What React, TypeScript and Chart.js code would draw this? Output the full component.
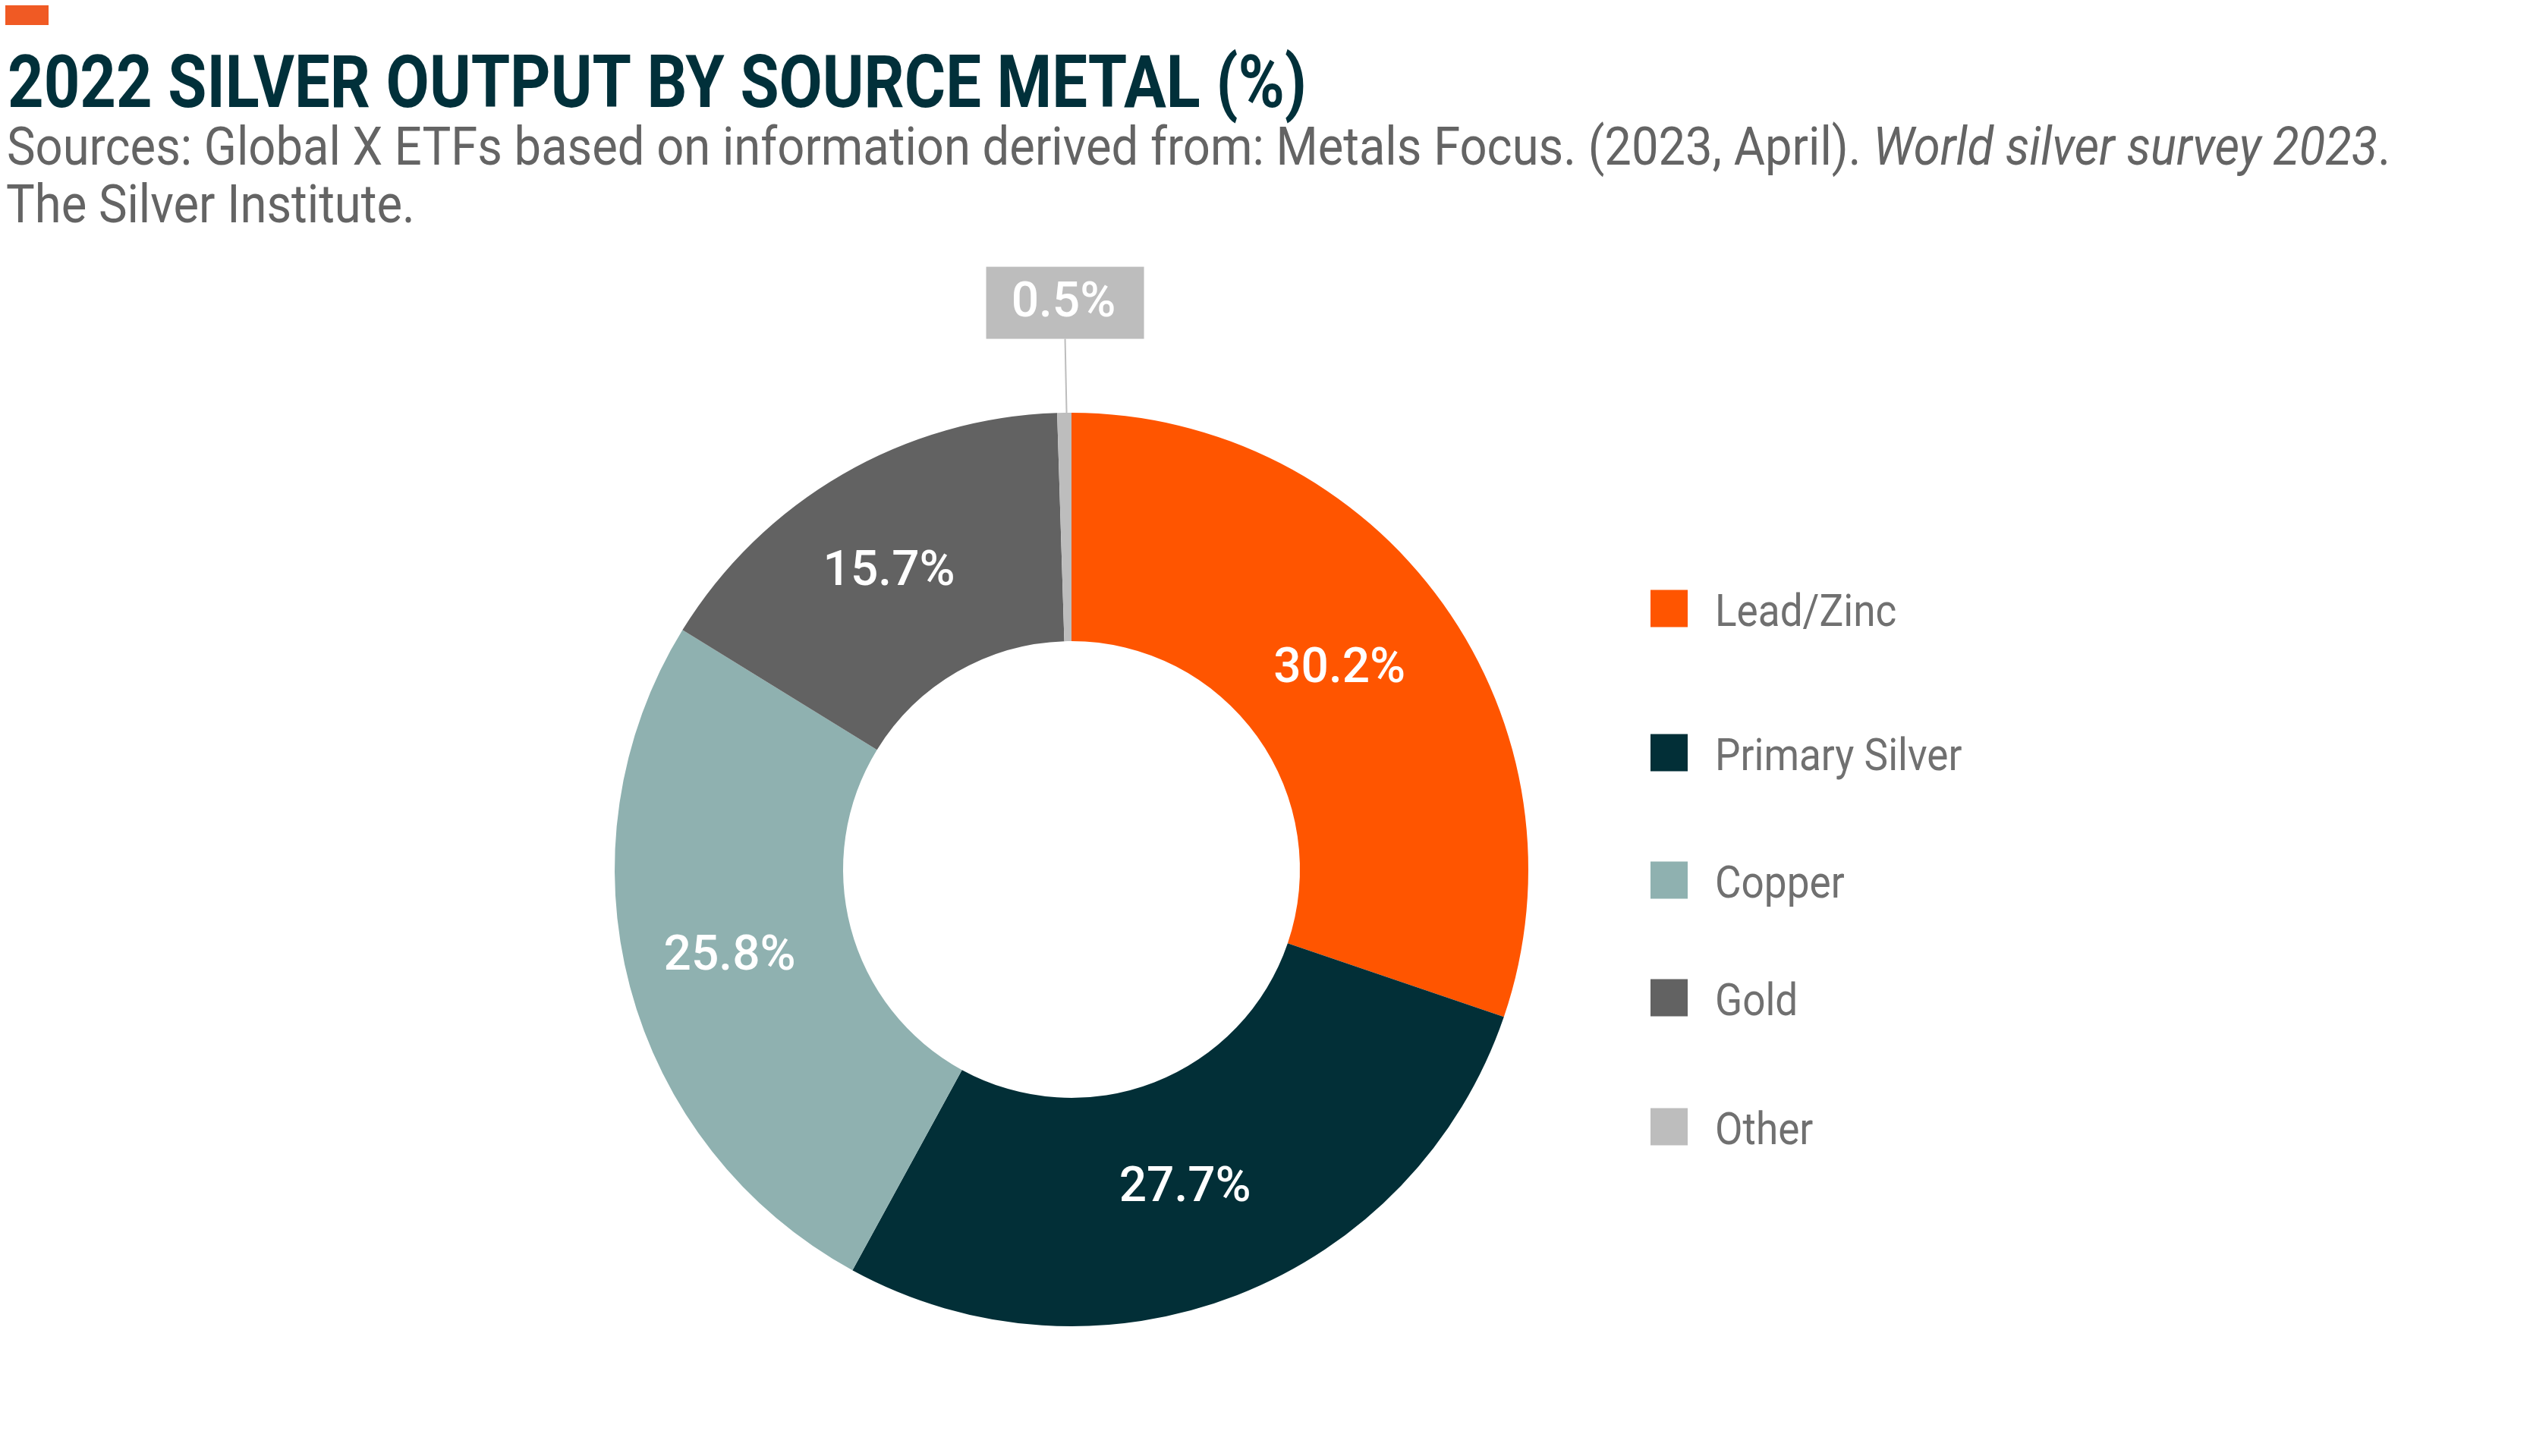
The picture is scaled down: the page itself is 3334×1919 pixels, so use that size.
import React, { useEffect, useRef } from 'react';
import { Chart, registerables } from 'chart.js';

Chart.register(...registerables);

// ---------- data ----------
const categories = ['Lead/Zinc', 'Primary Silver', 'Copper', 'Gold', 'Other'];
const shares = [30.2, 27.7, 25.8, 15.7, 0.5];
const sliceColors = ['#FF5500', '#022F37', '#8FB1B0', '#626262', '#BDBDBD'];

const titleText = '2022 SILVER OUTPUT BY SOURCE METAL (%)';
const sourceLine1 = [
  { text: 'Sources: Global X ETFs based on information derived from: Metals Focus. (2023, April). ', italic: false },
  { text: 'World silver survey 2023', italic: true },
  { text: '.', italic: false },
];
const sourceLine2 = 'The Silver Institute.';

// ---------- layout / style ----------
const W = 3334;
const H = 1919;
const FONT = 'Roboto, "Noto Sans", "DejaVu Sans", sans-serif';
const LEGEND_ROW_CENTERS = [802, 992, 1160, 1315, 1485];

function fmt(v: number) {
  return v.toFixed(1) + '%';
}

const decorPlugin = {
  id: 'decor',
  afterDatasetsDraw(chart: any) {
    const ctx: CanvasRenderingContext2D = chart.ctx;
    const meta = chart.getDatasetMeta(0);
    ctx.save();
    ctx.textAlign = 'center';
    ctx.textBaseline = 'middle';
    ctx.fillStyle = '#FFFFFF';
    ctx.font = `500 64px ${FONT}`;
    meta.data.forEach((arc: any, i: number) => {
      const v = shares[i];
      const label = fmt(v);
      if (v < 2) {
        const p = arc.getProps(['x', 'y', 'startAngle', 'endAngle', 'outerRadius'], true);
        const mid = (p.startAngle + p.endAngle) / 2;
        const ex = p.x + Math.cos(mid) * p.outerRadius;
        const ey = p.y + Math.sin(mid) * p.outerRadius;
        const bw = 208;
        const bh = 95;
        const bcx = ex + 1;
        const bcy = ey - 145;
        ctx.strokeStyle = '#BDBDBD';
        ctx.lineWidth = 2;
        ctx.beginPath();
        ctx.moveTo(ex + 3, ey);
        ctx.lineTo(bcx, bcy + bh / 2);
        ctx.stroke();
        ctx.fillStyle = '#BDBDBD';
        ctx.fillRect(bcx - bw / 2, bcy - bh / 2, bw, bh);
        ctx.fillStyle = '#FFFFFF';
        ctx.fillText(label, bcx - 2, bcy + 2);
      } else {
        const c = arc.getCenterPoint();
        ctx.fillText(label, c.x - 14, c.y);
      }
    });
    ctx.restore();
  },
  afterDraw(chart: any) {
    const ctx: CanvasRenderingContext2D = chart.ctx;
    ctx.save();
    // accent bar
    ctx.fillStyle = '#F05A24';
    ctx.fillRect(7, 7, 57, 26);

    // title (condensed to fit)
    ctx.textAlign = 'left';
    ctx.textBaseline = 'alphabetic';
    ctx.font = `700 97px ${FONT}`;
    ctx.fillStyle = '#01303A';
    const tw = ctx.measureText(titleText).width;
    ctx.save();
    ctx.translate(10, 141);
    ctx.scale(1712 / tw, 1);
    ctx.fillText(titleText, 0, 0);
    ctx.restore();

    // source lines
    const regular = `400 70px ${FONT}`;
    const italic = `italic 400 70px ${FONT}`;
    let total = 0;
    sourceLine1.forEach((p) => {
      ctx.font = p.italic ? italic : regular;
      total += ctx.measureText(p.text).width;
    });
    const sc = 3141 / total;
    ctx.fillStyle = '#646464';
    ctx.save();
    ctx.translate(9, 217);
    ctx.scale(sc, 1);
    let x = 0;
    sourceLine1.forEach((p) => {
      ctx.font = p.italic ? italic : regular;
      ctx.fillText(p.text, x, 0);
      x += ctx.measureText(p.text).width;
    });
    ctx.restore();
    ctx.save();
    ctx.translate(8, 293);
    ctx.scale(sc, 1);
    ctx.font = regular;
    ctx.fillText(sourceLine2, 0, 0);
    ctx.restore();

    // legend
    ctx.font = `400 60px ${FONT}`;
    categories.forEach((name, i) => {
      const cy = LEGEND_ROW_CENTERS[i];
      ctx.fillStyle = sliceColors[i];
      ctx.fillRect(2175, cy - 24.5, 49, 49);
      ctx.fillStyle = '#707070';
      ctx.save();
      ctx.translate(2260, cy + 23);
      ctx.scale(0.885, 1);
      ctx.fillText(name, 0, 0);
      ctx.restore();
    });
    ctx.restore();
  },
};

export default function App() {
  const ref = useRef<HTMLCanvasElement | null>(null);
  useEffect(() => {
    if (!ref.current) return;
    const chart = new Chart(ref.current, {
      type: 'doughnut',
      data: {
        labels: categories,
        datasets: [
          {
            data: shares,
            backgroundColor: sliceColors,
            borderWidth: 0,
            hoverOffset: 0,
            cutout: '50%',
            radius: 602,
          } as any,
        ],
      },
      options: {
        responsive: false,
        animation: false,
        devicePixelRatio: 1,
        events: [],
        layout: { padding: { left: 400, right: 910, top: 500, bottom: 127 } },
        plugins: {
          legend: { display: false },
          tooltip: { enabled: false },
        },
      } as any,
      plugins: [decorPlugin as any],
    });
    return () => chart.destroy();
  }, []);
  return (
    <canvas
      ref={ref}
      width={W}
      height={H}
      style={{ position: 'absolute', left: 0, top: 0, width: W + 'px', height: H + 'px', background: '#fff' }}
    />
  );
}
